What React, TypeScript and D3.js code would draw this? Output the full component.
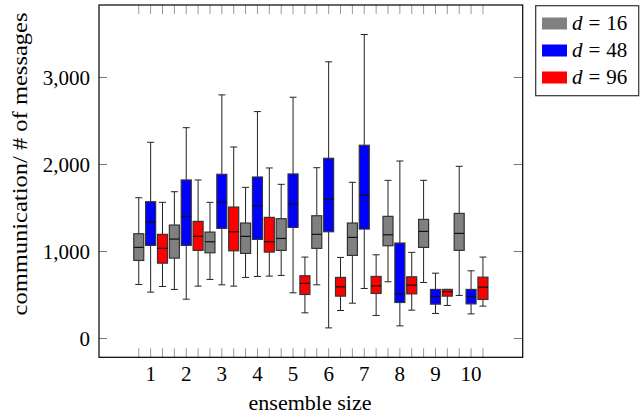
import React from "react";
import * as d3 from "d3";

// [lower whisker, q1, median, q3, upper whisker] per ensemble size
const sizes = [1, 2, 3, 4, 5, 6, 7, 8, 9, 10];
const d16 = [
  [621, 897, 1047, 1204, 1618],
  [564, 924, 1143, 1304, 1687],
  [679, 985, 1112, 1223, 1565],
  [702, 978, 1174, 1327, 1737],
  [725, 1013, 1150, 1377, 1772],
  [617, 1036, 1197, 1411, 1963],
  [406, 955, 1162, 1327, 1795],
  [652, 1066, 1192, 1404, 1818],
  [644, 1047, 1231, 1369, 1818],
  [495, 1013, 1208, 1438, 1979],
];
const d48 = [
  [533, 1070, 1338, 1572, 2255],
  [452, 1070, 1404, 1822, 2423],
  [617, 1266, 1568, 1887, 2800],
  [713, 1139, 1526, 1856, 2608],
  [525, 1277, 1546, 1891, 2773],
  [122, 1227, 1600, 2071, 3180],
  [575, 1258, 1646, 2221, 3494],
  [145, 414, 513, 1097, 2040],
  [288, 395, 483, 564, 751],
  [283, 398, 483, 564, 778],
];
const d96 = [
  [598, 866, 1036, 1197, 1565],
  [602, 1013, 1174, 1346, 1822],
  [602, 1008, 1227, 1511, 2201],
  [717, 993, 1112, 1392, 1960],
  [295, 506, 633, 721, 936],
  [322, 487, 594, 702, 932],
  [265, 518, 605, 713, 962],
  [326, 513, 613, 709, 990],
  [380, 487, 537, 564, 564],
  [372, 449, 590, 705, 936],
];
const seriesNames = ["16", "48", "96"];
const seriesColors = ["#808080", "#0000ff", "#ff0000"];
const seriesData = [d16, d48, d96];
const yTicks = [0, 1000, 2000, 3000];

const W = 640;
const H = 417;
const left = 99;
const right = 522.7;
const top = 5;
const bottom = 357.3;
const font = "Liberation Serif, Times New Roman, serif";

export default function App() {
  const x = d3.scaleLinear().domain([-0.45, 11.45]).range([left, right]);
  const y = d3.scaleLinear().domain([-216, 3833]).range([bottom, top]);
  const fmt = d3.format(",");
  const offsets = [-1 / 3, 0, 1 / 3];
  const boxW = 10;
  const capW = 7;

  // one small tick under every box position
  const minorTicks: number[] = [];
  sizes.forEach((s) => offsets.forEach((o) => minorTicks.push(s + o)));

  return (
    <svg width={W} height={H} style={{ position: "absolute", left: 0, top: 0, fontFamily: font }}>
      <rect width={W} height={H} fill="#fff" />
      {minorTicks.map((t, i) => (
        <g key={"mt" + i} stroke="#999" strokeWidth={1}>
          <line x1={x(t)} x2={x(t)} y1={bottom} y2={bottom - 9} />
          <line x1={x(t)} x2={x(t)} y1={top} y2={top + 9} />
        </g>
      ))}
      {yTicks.map((t) => (
        <g key={"yt" + t}>
          <line x1={left} x2={left + 8} y1={y(t)} y2={y(t)} stroke="#777" />
          <line x1={right - 9} x2={right} y1={y(t)} y2={y(t)} stroke="#777" />
          <text x={90} y={y(t)} dy="0.35em" textAnchor="end" fontSize={21}>
            {fmt(t)}
          </text>
        </g>
      ))}
      {seriesData.map((data, si) =>
        data.map((b, gi) => {
          const cx = x(sizes[gi] + offsets[si]);
          const [lo, q1, med, q3, hi] = b;
          return (
            <g key={"b" + si + "-" + gi}>
              <line x1={cx} x2={cx} y1={y(hi)} y2={y(q3)} stroke="#222" />
              <line x1={cx} x2={cx} y1={y(q1)} y2={y(lo)} stroke="#222" />
              <line x1={cx - capW / 2} x2={cx + capW / 2} y1={y(hi)} y2={y(hi)} stroke="#222" />
              <line x1={cx - capW / 2} x2={cx + capW / 2} y1={y(lo)} y2={y(lo)} stroke="#222" />
              <rect
                x={cx - boxW / 2}
                y={y(q3)}
                width={boxW}
                height={Math.max(1, y(q1) - y(q3))}
                fill={seriesColors[si]}
                stroke="#333"
                strokeWidth={1.2}
              />
              <line x1={cx - boxW / 2} x2={cx + boxW / 2} y1={y(med)} y2={y(med)} stroke="#111" strokeWidth={1.2} />
            </g>
          );
        })
      )}
      <rect x={left} y={top} width={right - left} height={bottom - top} fill="none" stroke="#000" strokeWidth={1.2} />
      {sizes.map((s) => (
        <text key={"xl" + s} x={x(s)} y={381} textAnchor="middle" fontSize={21}>
          {s}
        </text>
      ))}
      <text x={310} y={410} textAnchor="middle" fontSize={21} textLength={123} lengthAdjust="spacingAndGlyphs">
        ensemble size
      </text>
      <text
        transform={`translate(27,164) rotate(-90)`}
        textAnchor="middle"
        fontSize={21}
        textLength={303}
        lengthAdjust="spacingAndGlyphs"
      >
        communication/ # of messages
      </text>
      <rect x={535.7} y={5.7} width={103} height={90} fill="#fff" stroke="#333" strokeWidth={1.2} />
      {seriesNames.map((n, i) => (
        <g key={"lg" + n} transform={`translate(0,${i * 27})`}>
          <rect x={542} y={17.5} width={25} height={12} fill={seriesColors[i]} />
          <text x={572} y={30} fontSize={21}>
            <tspan fontStyle="italic">d</tspan>
            <tspan dx={6}>=</tspan>
            <tspan dx={6}>{n}</tspan>
          </text>
        </g>
      ))}
    </svg>
  );
}
